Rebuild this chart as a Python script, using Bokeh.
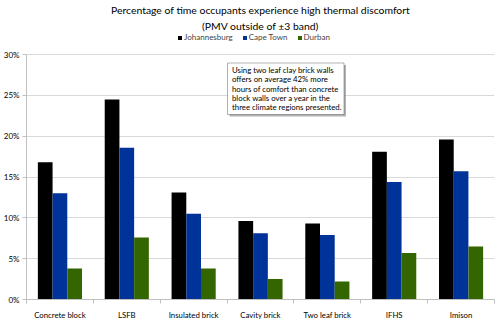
from bokeh.plotting import figure
from bokeh.models import (Range1d, FixedTicker, Legend, LegendItem, Label, Title,
                          BoxAnnotation, PrintfTickFormatter, ColumnDataSource)
from bokeh.transform import dodge
from bokeh.embed import file_html
from bokeh.resources import INLINE

categories = ["Concrete block", "LSFB", "Insulated brick", "Cavity brick",
              "Two leaf brick", "IFHS", "Imison"]
johannesburg = [16.8, 24.5, 13.1, 9.6, 9.3, 18.1, 19.6]
cape_town = [13.0, 18.6, 10.5, 8.1, 7.9, 14.4, 15.7]
durban = [3.8, 7.6, 3.8, 2.5, 2.2, 5.7, 6.5]
series_names = ["Johannesburg", "Cape Town", "Durban"]
series_colors = ["#000000", "#003399", "#336600"]
y_ticks = [0, 5, 10, 15, 20, 25, 30]
title_lines = ["Percentage of time occupants experience high thermal discomfort",
               "(PMV outside of \u00b13 band)"]
note_lines = ["Using two leaf clay brick walls",
              "offers on average 42% more",
              "hours of comfort  than concrete",
              "block walls over a year in the",
              "three climate regions presented."]

FONT = "Lato"
n = len(categories)
centers = [i + 0.5 for i in range(n)]

# frame extends a little above 30% so the legend can sit inside it
p = figure(width=500, height=322, x_range=Range1d(0, n), y_range=Range1d(0, 32.7),
           output_backend="svg", toolbar_location=None, title_location=None,
           min_border_left=26, min_border_right=6, min_border_top=31,
           min_border_bottom=19)
p.outline_line_color = None
p.background_fill_color = "white"

src = ColumnDataSource(dict(x=centers, j=johannesburg, c=cape_town, d=durban))
bw = 0.22
items = []
for k, (col, name, color) in enumerate(zip(["j", "c", "d"], series_names, series_colors)):
    r = p.vbar(x=dodge("x", (k - 1) * bw, range=p.x_range), top=col, width=bw,
               bottom=0, source=src, fill_color=color, line_color=None)
    items.append(LegendItem(label=name, renderers=[r]))

# axes
p.xgrid.grid_line_color = None
p.ygrid.ticker = FixedTicker(ticks=y_ticks)
p.ygrid.grid_line_color = "#d9d9d9"
p.ygrid.grid_line_width = 1

p.yaxis.ticker = FixedTicker(ticks=y_ticks)
p.yaxis.bounds = (0, 30)
p.yaxis.formatter = PrintfTickFormatter(format="%d%%")
p.yaxis.axis_line_color = "#bfbfbf"
p.yaxis.major_tick_line_color = "#bfbfbf"
p.yaxis.major_tick_out = 4
p.yaxis.major_tick_in = 0
p.yaxis.minor_tick_line_color = None
p.yaxis.major_label_text_font = FONT
p.yaxis.major_label_text_font_size = "8px"
p.yaxis.major_label_text_color = "#000000"
p.yaxis.major_label_standoff = 3

p.xaxis.ticker = FixedTicker(ticks=centers, minor_ticks=list(range(n + 1)))
p.xaxis.major_label_overrides = {c: lab for c, lab in zip(centers, categories)}
p.xaxis.axis_line_color = "#bfbfbf"
p.xaxis.major_tick_line_color = None
p.xaxis.minor_tick_line_color = "#bfbfbf"
p.xaxis.minor_tick_out = 4
p.xaxis.minor_tick_in = 0
p.xaxis.major_label_text_font = FONT
p.xaxis.major_label_text_font_size = "7.8px"
p.xaxis.major_label_text_color = "#000000"
p.xaxis.major_label_standoff = 4

# title lines
for line in reversed(title_lines):
    p.add_layout(Title(text=line, align="center", text_font=FONT,
                       text_font_size="10.4px", text_font_style="normal",
                       text_color="#000000", standoff=2, offset=0), "above")

legend = Legend(items=items, orientation="horizontal", location=(151, 257),
                glyph_width=5, glyph_height=5, label_standoff=2, spacing=9,
                padding=0, margin=0, border_line_color=None, background_fill_alpha=0,
                label_text_font=FONT, label_text_font_size="8px",
                label_height=8)
p.add_layout(legend, "center")

# annotation box with shadow
p.add_layout(BoxAnnotation(left=203, right=319.5, top=234.5, bottom=183,
                           left_units="screen", right_units="screen",
                           top_units="screen", bottom_units="screen",
                           fill_color="#808080", fill_alpha=0.6, line_color=None))
p.add_layout(BoxAnnotation(left=201, right=317.5, top=236.5, bottom=185,
                           left_units="screen", right_units="screen",
                           top_units="screen", bottom_units="screen",
                           fill_color="white", fill_alpha=1, line_color="black",
                           line_width=1))
for i, line in enumerate(note_lines):
    p.add_layout(Label(x=205.5, y=229.5 - 9.3 * i, x_units="screen", y_units="screen",
                       text=line, text_align="left", text_baseline="middle",
                       text_font=FONT, text_font_size="7.8px",
                       text_color="#000000"))

open("out.html", "w").write(file_html(p, INLINE))
